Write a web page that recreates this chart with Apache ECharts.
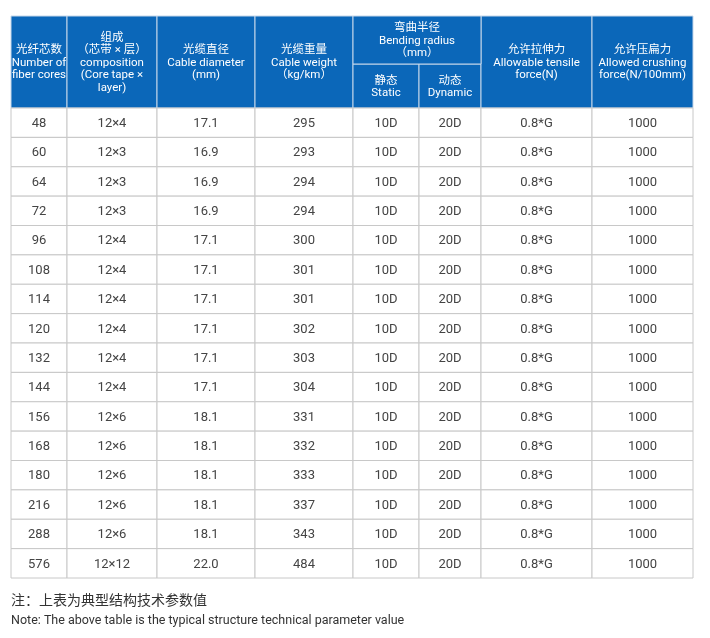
<!DOCTYPE html><html><head><meta charset="utf-8"><script src="https://cdn.jsdelivr.net/npm/echarts@6/dist/echarts.min.js"></script>
<style>body{margin:0;background:#fff}#c{width:710px;height:638px}</style></head><body><div id="c"></div><script>
const fiberCores=['48','60','64','72','96','108','114','120','132','144','156','168','180','216','288','576'];
const composition=['12×4','12×3','12×3','12×3','12×4','12×4','12×4','12×4','12×4','12×4','12×6','12×6','12×6','12×6','12×6','12×12'];
const diameter=['17.1','16.9','16.9','16.9','17.1','17.1','17.1','17.1','17.1','17.1','18.1','18.1','18.1','18.1','18.1','22.0'];
const weight=['295','293','294','294','300','301','301','302','303','304','331','332','333','337','343','484'];
const staticR='10D', dynamicR='20D', tensile='0.8*G', crushing='1000';
const headers=['光纤芯数\nNumber of\nfiber cores','组成\n（芯带 × 层）\ncomposition\n(Core tape ×\nlayer)','光缆直径\nCable diameter\n(mm)','光缆重量\nCable weight\n（kg/km）','静态\nStatic','动态\nDynamic','允许拉伸力\nAllowable tensile\nforce(N)','允许压扁力\nAllowed crushing\nforce(N/100mm)'];
const bendHeader='弯曲半径\nBending radius\n（mm）';
const noteCN='注：上表为典型结构技术参数值';
const noteEN='Note: The above table is the typical structure technical parameter value';
// layout
const colEdges=[11,67,157,255,353,419,481,592,693];
const n=fiberCores.length, hdr=92/29.375, total=n+hdr;
const cells=[];
for(let c=0;c<8;c++){
  const top=(c==4||c==5)?total-48/29.375:total;
  cells.push([colEdges[c],colEdges[c+1],total-hdr,top,headers[c],1,c]);
}
cells.push([colEdges[4],colEdges[6],total-48/29.375,total,bendHeader,1,9]);
for(let r=0;r<n;r++){
  const vals=[fiberCores[r],composition[r],diameter[r],weight[r],staticR,dynamicR,tensile,crushing];
  vals.forEach((v,c)=>cells.push([colEdges[c],colEdges[c+1],n-1-r,n-r,v,0,c]));
}
const ch=echarts.init(document.getElementById('c'));
ch.setOption({animation:false,
 grid:{left:0,right:0,top:16,bottom:60},
 xAxis:{type:'value',min:0,max:710,show:false},
 yAxis:{type:'value',min:0,max:total,show:false},
 graphic:[{type:'text',left:11,top:593,style:{text:noteCN,fontSize:14,fill:'#333',fontFamily:'Noto Sans CJK SC'}},
  {type:'text',left:11,top:614,style:{text:noteEN,fontSize:12.5,fill:'#333',fontFamily:'Roboto'}}],
 series:[{type:'custom',data:cells,renderItem:(p,api)=>{
   const a=api.coord([api.value(0),api.value(3)]),b=api.coord([api.value(1),api.value(2)]);
   const h=api.value(5)==1;
   return {type:'group',children:[
    {type:'rect',shape:{x:a[0],y:a[1],width:b[0]-a[0],height:b[1]-a[1]},style:{fill:h?'#0b67b9':'#fff',stroke:h?'#c5d7ea':'#c8c8c8',lineWidth:1}},
    {type:'text',style:{text:cells[p.dataIndex][4],x:(a[0]+b[0])/2,y:(a[1]+b[1])/2+1,align:'center',verticalAlign:'middle',fill:h?'#fff':'#444',fontSize:h?11.5:13,lineHeight:h?12.5:14,fontFamily:'Roboto, Noto Sans CJK SC'}}]};
 }}]});
</script></body></html>
